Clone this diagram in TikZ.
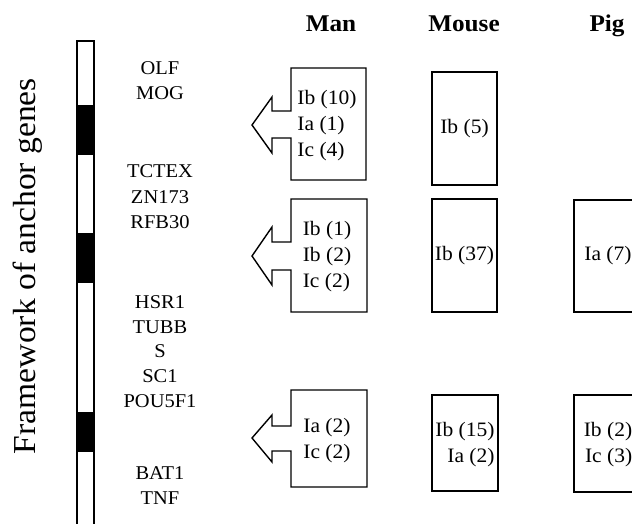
\documentclass[tikz,border=0pt]{standalone}
\usepackage{fontspec}
\setmainfont[FakeStretch=1.05]{Liberation Serif}
\begin{document}
\begin{tikzpicture}[x=1pt,y=-1pt,line join=miter]
\tikzset{
  boxline/.style={draw,line width=1.4pt},
  gene/.style={font=\fontsize{19.5}{22}\selectfont,inner sep=0pt},
  head/.style={font=\bfseries\fontsize{24}{28}\selectfont,inner sep=0pt,anchor=base},
  cnt/.style={font=\fontsize{20.5}{26}\selectfont,inner sep=0pt,align=left},
  cntr/.style={font=\fontsize{20.5}{26}\selectfont,inner sep=0pt,align=right},
  sbox/.style={boxline,inner sep=0pt,font=\fontsize{20.5}{26}\selectfont},
}
\useasboundingbox (0,0) rectangle (632,523);
% chromosome bar
\fill[black] (77,105) rectangle (94,155);
\fill[black] (77,233) rectangle (94,283);
\fill[black] (77,412) rectangle (94,452);
\draw[line width=1.4pt] (77,530) -- (77,41) -- (94,41) -- (94,530);
% axis label
\node[rotate=90,font=\fontsize{32}{34}\selectfont,inner sep=0pt] (lab) at (28,266) {Framework of anchor genes};
% gene labels
\node[gene] (g1) at (160,68) {OLF};
\node[gene] (g2) at (160,93) {MOG};
\node[gene] (g3) at (160,171) {TCTEX};
\node[gene] (g4) at (160,197) {ZN173};
\node[gene] (g5) at (160,222) {RFB30};
\node[gene] (g6) at (160,302) {HSR1};
\node[gene] (g7) at (160,327) {TUBB};
\node[gene] (g8) at (160,351) {S};
\node[gene] (g9) at (160,376) {SC1};
\node[gene] (g10) at (160,401) {POU5F1};
\node[gene] (g11) at (160,473) {BAT1};
\node[gene] (g12) at (160,498) {TNF};
% headers
\node[head] (hman) at (331,31) {Man};
\node[head] (hmouse) at (464,31) {Mouse};
\node[head] (hpig) at (607,31) {Pig};
% man boxes with block arrows
\draw[boxline] (291,68) -- (366,68) -- (366,180) -- (291,180) -- (291,138) -- (272,138) -- (272,153)
  -- (252,125) -- (272,97) -- (272,111) -- (291,111) -- cycle;
\draw[boxline] (291,199) -- (367,199) -- (367,312) -- (291,312) -- (291,270) -- (272,270) -- (272,285)
  -- (252,256) -- (272,227) -- (272,242) -- (291,242) -- cycle;
\draw[boxline] (291,390) -- (367,390) -- (367,487) -- (291,487) -- (291,451) -- (272,451) -- (272,462)
  -- (252,438) -- (272,415) -- (272,426) -- (291,426) -- cycle;
\node[cnt] (m1) at (327,126) {Ib (10)\\Ia (1)\\Ic (4)};
\node[cnt] (m2) at (327,257) {Ib (1)\\Ib (2)\\Ic (2)};
\node[cnt] (m3) at (327,441) {Ia (2)\\Ic (2)};
% mouse boxes
\node[sbox,minimum width=65,minimum height=113] (mo1) at (464.5,128.5) {Ib (5)};
\node[sbox,minimum width=65,minimum height=113] (mo2) at (464.5,255.5) {Ib (37)};
\node[sbox,minimum width=66,minimum height=96] (mo3) at (465,443) {};
\node[cntr] (mo3t) at (465,445) {Ib (15)\\Ia (2)};
% pig boxes
\node[sbox,minimum width=68,minimum height=112] (p2) at (608,256) {Ia (7)};
\node[sbox,minimum width=68,minimum height=97] (p3) at (608,443.5) {};
\node[cntr] (p3t) at (608,445) {Ib (2)\\Ic (3)};
\end{tikzpicture}
\end{document}
